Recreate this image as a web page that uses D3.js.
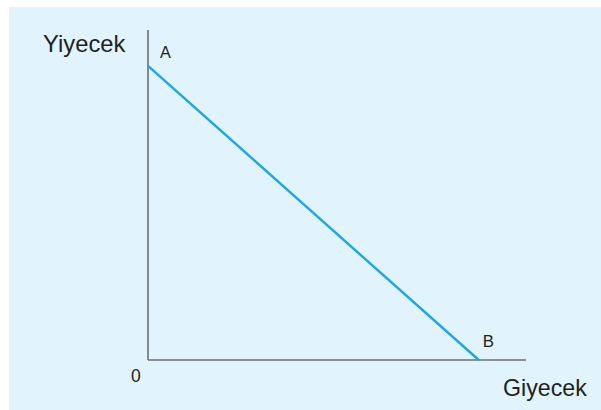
<!DOCTYPE html>
<html>
<head>
<meta charset="utf-8">
<script src="https://cdn.jsdelivr.net/npm/d3@7"></script>
<style>
  html, body { margin: 0; padding: 0; background: #ffffff; }
  svg { display: block; font-family: "Liberation Sans", Arial, Helvetica, sans-serif; }
</style>
</head>
<body>
<svg id="chart" width="601" height="410"></svg>
<script>
// Budget line: all income spent on food (A) or on clothing (B)
const axisLabels = { y: "Yiyecek", x: "Giyecek" };
const originLabel = "0";
const pointNames = ["A", "B"];
const foodIntercept = 9;      // A: food bought when no clothing is bought
const clothingIntercept = 7;  // B: clothing bought when no food is bought
const budgetPoints = [
  { x: 0, y: foodIntercept },
  { x: clothingIntercept, y: 0 }
];

const svg = d3.select("#chart");

// Light blue panel
svg.append("rect")
  .attr("x", 9).attr("y", 7)
  .attr("width", 601 - 9).attr("height", 410 - 7)
  .attr("fill", "#e1f3fc");

const x = d3.scaleLinear().domain([0, 8]).range([148, 526]);
const y = d3.scaleLinear().domain([0, 10.1]).range([360, 30]);

// Axes (plain lines, no ticks)
const axisColor = "#6d6e70";
svg.append("line")
  .attr("x1", x(0)).attr("y1", y(0))
  .attr("x2", x(0)).attr("y2", y.range()[1])
  .attr("stroke", axisColor).attr("stroke-width", 1.6);
svg.append("line")
  .attr("x1", x(0)).attr("y1", y(0))
  .attr("x2", x.range()[1]).attr("y2", y(0))
  .attr("stroke", axisColor).attr("stroke-width", 1.6);

// Budget line
svg.append("path")
  .datum(budgetPoints)
  .attr("fill", "none")
  .attr("stroke", "#1ba6e4")
  .attr("stroke-width", 2.4)
  .attr("d", d3.line().x(d => x(d.x)).y(d => y(d.y)));

const textColor = "#231f20";

// Axis titles
svg.append("text")
  .attr("x", 43).attr("y", 52)
  .attr("font-size", 23.8).attr("fill", textColor)
  .text(axisLabels.y);
svg.append("text")
  .attr("x", 503).attr("y", 396)
  .attr("font-size", 23.2).attr("fill", textColor)
  .text(axisLabels.x);

// Origin
svg.append("text")
  .attr("x", 131).attr("y", 382)
  .attr("font-size", 17.5).attr("fill", textColor)
  .text(originLabel);

// Intercept labels
svg.append("text")
  .attr("x", x(budgetPoints[0].x) + 12).attr("y", 58)
  .attr("font-size", 16.2).attr("fill", textColor)
  .text(pointNames[0]);
svg.append("text")
  .attr("x", x(budgetPoints[1].x) + 4).attr("y", 347)
  .attr("font-size", 16.8).attr("fill", textColor)
  .text(pointNames[1]);
</script>
</body>
</html>
